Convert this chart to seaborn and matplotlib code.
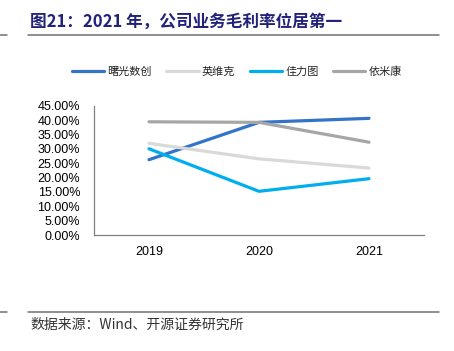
import matplotlib
matplotlib.use("Agg")
import matplotlib.pyplot as plt
import seaborn as sns
import pandas as pd
from matplotlib.lines import Line2D
from matplotlib.ticker import FuncFormatter, FixedLocator

years = ["2019", "2020", "2021"]
companies = ["曙光数创", "英维克", "佳力图", "依米康"]
shuguang = [0.262, 0.392, 0.406]
yingweike = [0.319, 0.265, 0.233]
jialitu = [0.300, 0.152, 0.196]
yimikang = [0.394, 0.392, 0.323]
colors = ["#3373C9", "#D9D9D9", "#00AEEF", "#A6A6A6"]

title_text = "图21：2021 年，公司业务毛利率位居第一"
source_text = "数据来源：Wind、开源证券研究所"

sns.set_theme(style="white")
plt.rcParams['font.family'] = ['Liberation Sans', 'Noto Sans CJK SC', 'DejaVu Sans']

values = [shuguang, yingweike, jialitu, yimikang]
rows = []
for c, v in zip(companies, values):
    for y, val in zip(years, v):
        rows.append({"year": y, "company": c, "value": val})
df = pd.DataFrame(rows)

fig = plt.figure(figsize=(4.54, 3.51), dpi=100)
W, H = 454, 351
ax = fig.add_axes([94 / W, (H - 235) / H, (424 - 94) / W, (235 - 105.7) / H])

sns.lineplot(data=df, x="year", y="value", hue="company", hue_order=companies,
             palette=colors, linewidth=2.3, ax=ax, legend=False, sort=False)

ax.set_xlim(-0.5, 2.5)
ax.set_ylim(0, 0.45)
ax.set_yticks([i * 0.05 for i in range(10)])
ax.yaxis.set_major_formatter(FuncFormatter(lambda v, p: f"{v*100:.2f}%"))
ax.set_xticks(range(len(years)))
ax.set_xticklabels(years)
ax.xaxis.set_minor_locator(FixedLocator([0.5, 1.5, 2.5]))
ax.tick_params(axis="x", which="major", length=0, pad=8, labelsize=9, colors="#000000")
ax.tick_params(axis="x", which="minor", length=3, direction="in", color="#808080", width=0.8)
ax.tick_params(axis="y", which="major", length=3, direction="in", color="#808080", width=0.8,
               labelsize=9, pad=10)
ax.tick_params(axis="y", colors="#808080", labelcolor="#000000")
ax.set_xlabel("")
ax.set_ylabel("")
for s in ["top", "right"]:
    ax.spines[s].set_visible(False)
for s in ["left", "bottom"]:
    ax.spines[s].set_color("#808080")
    ax.spines[s].set_linewidth(0.9)
ax.grid(False)

handles = [Line2D([0], [0], color=c, lw=2.3) for c in colors]
fig.legend(handles, companies, loc="center", bbox_to_anchor=(237 / W, 1 - 72 / H),
           ncol=4, frameon=False, handlelength=2.9, handletextpad=0.3,
           columnspacing=1.3, prop={'family': ['Noto Sans CJK SC', 'DejaVu Sans'], 'size': 8})

fig.text(30 / W, 1 - 22 / H, title_text, fontsize=12, fontweight="bold", color="#22227A",
         va="center", ha="left", family=['Noto Sans CJK SC', 'DejaVu Sans'])
fig.text(30 / W, 1 - 325 / H, source_text, fontsize=10, color="#333333",
         va="center", ha="left", family=['Noto Sans CJK SC', 'DejaVu Sans'])

for yy in [34.5, 312.3]:
    fig.add_artist(Line2D([28 / W, 439 / W], [1 - yy / H, 1 - yy / H], color="#707070", lw=1.1))
    fig.add_artist(Line2D([0, 7 / W], [1 - yy / H, 1 - yy / H], color="#707070", lw=1.1))

fig.savefig("out.png", dpi=100)
